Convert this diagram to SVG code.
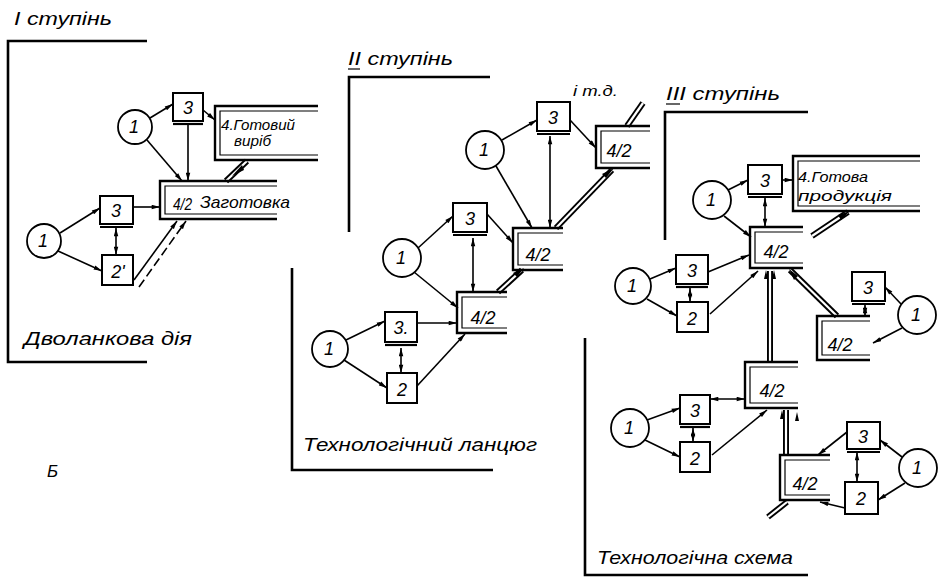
<svg xmlns="http://www.w3.org/2000/svg" width="939" height="580" viewBox="0 0 939 580">
<style>
.ln{stroke:#000;stroke-width:1.6;fill:none}
.bx{stroke:#000;stroke-width:2;fill:#fff}
.bl{stroke:#000;stroke-width:2.2;fill:none}
.c{stroke:#000;stroke-width:1.8;fill:#fff}
.br{stroke:#000;stroke-width:2.6;fill:none}
.ou{stroke:#000;stroke-width:2.4;fill:none}
.in{stroke:#000;stroke-width:1.2;fill:none}
.pk{stroke:#000;stroke-width:6;fill:none}
.pw{stroke:#fff;stroke-width:2.2;fill:none}
.t{font-family:"Liberation Sans","DejaVu Sans",sans-serif;font-style:italic;fill:#000}
.n{font-size:18px;text-anchor:middle}
.h{font-size:19px}
.ah{fill:#000}
</style>
<defs>
<marker id="a" viewBox="0 0 10 6" refX="10" refY="3" markerWidth="9" markerHeight="5" markerUnits="userSpaceOnUse" orient="auto-start-reverse"><path d="M0,0.3 L10,3 L0,5.7 z"/></marker>
</defs>

<!-- brackets and titles -->
<g id="stage1">
<path class="br" d="M147 41 H8 V362 H147"/>
<text class="t h" x="14" y="25" textLength="98" lengthAdjust="spacingAndGlyphs">І ступінь</text>
<text class="t h" x="24" y="345" textLength="168" lengthAdjust="spacingAndGlyphs">Дволанкова дія</text>
</g>
<g id="stage2">
<path class="br" d="M490 77 H349 V232"/>
<path class="br" d="M292 268 V470 H493"/>
<text class="t h" x="348" y="65" textLength="105" lengthAdjust="spacingAndGlyphs">ІІ ступінь</text>
<path class="in" d="M348 69 H360"/>
<text class="t h" x="303" y="451" textLength="234" lengthAdjust="spacingAndGlyphs">Технологічний ланцюг</text>
<text class="t" font-size="15" x="573" y="96" textLength="45" lengthAdjust="spacingAndGlyphs">і т.д.</text>
</g>
<g id="stage3">
<path class="br" d="M808 112 H665 V240"/>
<path class="br" d="M585 338 V575 H808"/>
<text class="t h" x="666" y="100" textLength="114" lengthAdjust="spacingAndGlyphs">ІІІ ступінь</text>
<path class="in" d="M666 104 H680"/>
<text class="t h" x="597" y="564" textLength="196" lengthAdjust="spacingAndGlyphs">Технологічна схема</text>
</g>
<text class="t" font-size="17" x="47" y="477">Б</text>

<!-- connectors -->
<g id="connectors">
<!-- stage I -->
<path class="ln" marker-end="url(#a)" d="M150 118 L173 104"/>
<path class="ln" marker-end="url(#a)" d="M147 140 L182 181"/>
<path class="ln" marker-end="url(#a)" d="M188 125 V181"/>
<path class="ln" marker-end="url(#a)" d="M203 110 L215 120"/>
<path class="pk" d="M226 181 L247 161"/><path class="pw" d="M226 181 L247 161"/>
<path class="ah" d="M232 176 l10 -11 l2 5 z"/>
<path class="ln" marker-end="url(#a)" d="M60 233 L100 208"/>
<path class="ln" marker-end="url(#a)" d="M58 251 L102 271"/>
<path class="ln" marker-start="url(#a)" marker-end="url(#a)" d="M116 228 V255"/>
<path class="ln" marker-end="url(#a)" d="M133 207 H160"/>
<path class="ln" marker-end="url(#a)" d="M134 280 L177 221"/>
<path class="ln" stroke-dasharray="9 4" stroke-width="2" marker-end="url(#a)" d="M139 287 L186 221"/>

<!-- stage II -->
<path class="ln" marker-end="url(#a)" d="M502 140 L537 120"/>
<path class="ln" marker-end="url(#a)" d="M496 166 L532 228"/>
<path class="ln" marker-start="url(#a)" marker-end="url(#a)" d="M550 136 V228"/>
<path class="ln" marker-end="url(#a)" d="M570 120 L596 148"/>
<path class="pk" d="M556 228 L612 170"/><path class="pw" d="M556 228 L612 170"/>
<path class="ah" d="M614 168 l-12 6 l4 4 z"/>
<path class="pk" d="M627 126 L643 103"/><path class="pw" d="M627 126 L643 103"/>
<path class="ln" marker-end="url(#a)" d="M418 248 L453 216"/>
<path class="ln" marker-end="url(#a)" d="M414 272 L458 308"/>
<path class="ln" marker-start="url(#a)" marker-end="url(#a)" d="M473 238 V292"/>
<path class="ln" marker-end="url(#a)" d="M487 214 L513 243"/>
<path class="pk" d="M498 292 L522 270"/><path class="pw" d="M498 292 L522 270"/>
<path class="ah" d="M524 268 l-11 5 l4 4 z"/>
<path class="ln" marker-end="url(#a)" d="M346 340 L385 321"/>
<path class="ln" marker-end="url(#a)" d="M344 360 L387 388"/>
<path class="ln" marker-start="url(#a)" marker-end="url(#a)" d="M401 348 V373"/>
<path class="ln" marker-end="url(#a)" d="M417 323 H457"/>
<path class="ln" marker-end="url(#a)" d="M417 386 L465 334"/>

<!-- stage III -->
<path class="ln" marker-end="url(#a)" d="M728 190 L748 180"/>
<path class="ln" marker-end="url(#a)" d="M724 216 L751 237"/>
<path class="ln" marker-start="url(#a)" marker-end="url(#a)" d="M765 198 V227"/>
<path class="ln" marker-end="url(#a)" d="M782 180 H793"/>
<path class="pk" d="M812 236 L848 212"/><path class="pw" d="M812 236 L848 212"/>
<path class="ah" d="M850 211 l-12 4 l3 5 z"/>
<path class="ln" marker-end="url(#a)" d="M650 279 L676 268"/>
<path class="ln" marker-end="url(#a)" d="M647 299 L677 316"/>
<path class="ln" marker-start="url(#a)" marker-end="url(#a)" d="M690 288 V302"/>
<path class="ln" marker-end="url(#a)" d="M708 272 L749 255"/>
<path class="ln" marker-end="url(#a)" d="M710 314 L758 271"/>
<path class="pk" stroke-width="8" d="M770 362 V271"/><path class="pw" stroke-width="3" d="M770 362 V271"/>
<path class="ah" d="M766 270 l-2 9 l4 0 z M774 270 l-2 9 l4 0 z"/>
<path class="pk" d="M837 316 L790 270"/><path class="pw" d="M837 316 L790 270"/>
<path class="ah" d="M789 269 l5 11 l4 -4 z"/>
<path class="ln" marker-start="url(#a)" marker-end="url(#a)" d="M865 305 V316"/>
<path class="ln" marker-end="url(#a)" d="M901 304 L885 287"/>
<path class="ln" marker-end="url(#a)" d="M902 328 L873 343"/>
<path class="ln" marker-start="url(#a)" marker-end="url(#a)" d="M710 399 H745"/>
<path class="ln" marker-end="url(#a)" d="M647 420 L680 408"/>
<path class="ln" marker-end="url(#a)" d="M645 440 L680 457"/>
<path class="ln" marker-start="url(#a)" marker-end="url(#a)" d="M693 428 V442"/>
<path class="ln" marker-end="url(#a)" d="M712 455 L767 410"/>
<path class="pk" stroke-width="8" d="M786 455 V410"/><path class="pw" stroke-width="3" d="M786 455 V410"/>
<path class="ah" d="M782 410 l-2 9 l4 0 z M797 412 l-2 9 l4 0 z"/>
<path class="pk" d="M787 502 L768 517"/><path class="pw" d="M787 502 L768 517"/>
<path class="ln" marker-end="url(#a)" d="M847 432 L818 455"/>
<path class="ln" marker-end="url(#a)" d="M902 457 L880 440"/>
<path class="ln" marker-end="url(#a)" d="M905 483 L878 500"/>
<path class="ln" marker-start="url(#a)" marker-end="url(#a)" d="M857 452 V482"/>
<path class="ln" marker-end="url(#a)" d="M845 508 L820 502"/>
</g>

<!-- stage I nodes -->
<g id="I-1a"><circle class="c" cx="135" cy="127" r="17"/><text class="t n" x="134" y="133">1</text></g>
<g id="I-3a"><rect class="bx" x="173" y="93" width="30" height="28"/><path class="bl" d="M173 124 H203"/><text class="t n" x="188" y="114">3</text></g>
<g id="I-4a"><path class="ou" d="M318 106 H215 V160 H318"/><path class="in" d="M318 111 H220 V155 H318"/>
<text class="t" font-size="15" x="221" y="130" textLength="74" lengthAdjust="spacingAndGlyphs">4.Готовий</text>
<text class="t" font-size="15" x="234" y="146" textLength="37" lengthAdjust="spacingAndGlyphs">виріб</text></g>
<g id="I-4b"><path class="ou" d="M277 181 H160 V219 H277"/><path class="in" d="M277 186 H165 V214 H277"/>
<text class="t" font-size="16" x="173" y="210" textLength="19" lengthAdjust="spacingAndGlyphs">4/2</text>
<text class="t" font-size="17" x="200" y="208" textLength="90" lengthAdjust="spacingAndGlyphs">Заготовка</text></g>
<g id="I-1b"><circle class="c" cx="44" cy="241" r="17"/><text class="t n" x="43" y="247">1</text></g>
<g id="I-3b"><rect class="bx" x="100" y="196" width="33" height="28"/><path class="bl" d="M100 227 H133"/><text class="t n" x="116" y="217">3</text></g>
<g id="I-2"><rect class="bx" x="102" y="255" width="31" height="30"/><text class="t n" x="118" y="278">2'</text></g>

<!-- stage II nodes -->
<g id="II-1a"><circle class="c" cx="485" cy="150" r="19"/><text class="t n" x="484" y="156">1</text></g>
<g id="II-3a"><rect class="bx" x="537" y="102" width="33" height="29"/><path class="bl" d="M537 134 H570"/><text class="t n" x="553" y="124">3</text></g>
<g id="II-4a"><path class="ou" d="M650 126 H596 V168 H650"/><path class="in" d="M650 131 H601 V163 H650"/><text class="t n" x="619" y="157">4/2</text></g>
<g id="II-1b"><circle class="c" cx="402" cy="258" r="19"/><text class="t n" x="401" y="264">1</text></g>
<g id="II-3b"><rect class="bx" x="453" y="203" width="34" height="29"/><path class="bl" d="M453 235 H487"/><text class="t n" x="470" y="225">3</text></g>
<g id="II-4b"><path class="ou" d="M563 228 H513 V270 H563"/><path class="in" d="M563 233 H518 V265 H563"/><text class="t n" x="538" y="261">4/2</text></g>
<g id="II-1c"><circle class="c" cx="330" cy="349" r="18"/><text class="t n" x="329" y="355">1</text></g>
<g id="II-3c"><rect class="bx" x="385" y="312" width="32" height="30"/><path class="bl" d="M385 345 H417"/><text class="t n" x="401" y="334">3.</text></g>
<g id="II-2"><rect class="bx" x="387" y="373" width="30" height="30"/><text class="t n" x="402" y="396">2</text></g>
<g id="II-4c"><path class="ou" d="M507 292 H457 V333 H507"/><path class="in" d="M507 297 H462 V328 H507"/><text class="t n" x="483" y="324">4/2</text></g>

<!-- stage III nodes -->
<g id="III-1a"><circle class="c" cx="712" cy="200" r="19"/><text class="t n" x="711" y="206">1</text></g>
<g id="III-3a"><rect class="bx" x="748" y="165" width="34" height="29"/><path class="bl" d="M748 197 H782"/><text class="t n" x="765" y="187">3</text></g>
<g id="III-4a"><path class="ou" d="M920 156 H793 V211 H920"/><path class="in" d="M920 161 H798 V206 H920"/>
<text class="t" font-size="15" x="798" y="182" textLength="70" lengthAdjust="spacingAndGlyphs">4.Готова</text>
<text class="t" font-size="15" x="798" y="201" textLength="94" lengthAdjust="spacingAndGlyphs">продукція</text></g>
<g id="III-4b"><path class="ou" d="M803 227 H750 V268 H803"/><path class="in" d="M803 232 H755 V263 H803"/><text class="t n" x="776" y="258">4/2</text></g>
<g id="III-1b"><circle class="c" cx="633" cy="286" r="18"/><text class="t n" x="632" y="292">1</text></g>
<g id="III-3b"><rect class="bx" x="676" y="255" width="32" height="29"/><path class="bl" d="M676 287 H708"/><text class="t n" x="692" y="277">3</text></g>
<g id="III-2b"><rect class="bx" x="677" y="302" width="31" height="30"/><text class="t n" x="692" y="325">2</text></g>
<g id="III-3c"><rect class="bx" x="852" y="272" width="33" height="29"/><path class="bl" d="M852 304 H885"/><text class="t n" x="868" y="294">3</text></g>
<g id="III-1c"><circle class="c" cx="917" cy="315" r="19"/><text class="t n" x="916" y="321">1</text></g>
<g id="III-4c"><path class="ou" d="M870 316 H817 V360 H870"/><path class="in" d="M870 321 H822 V355 H870"/><text class="t n" x="840" y="351">4/2</text></g>
<g id="III-4m"><path class="ou" d="M798 362 H745 V408 H798"/><path class="in" d="M798 367 H750 V403 H798"/><text class="t n" x="772" y="397">4/2</text></g>
<g id="III-3d"><rect class="bx" x="680" y="395" width="30" height="29"/><path class="bl" d="M680 427 H710"/><text class="t n" x="695" y="417">3</text></g>
<g id="III-1d"><circle class="c" cx="630" cy="428" r="19"/><text class="t n" x="629" y="434">1</text></g>
<g id="III-2d"><rect class="bx" x="680" y="442" width="30" height="30"/><text class="t n" x="695" y="465">2</text></g>
<g id="III-4l"><path class="ou" d="M830 455 H780 V500 H830"/><path class="in" d="M830 460 H785 V495 H830"/><text class="t n" x="805" y="490">4/2</text></g>
<g id="III-3e"><rect class="bx" x="847" y="422" width="33" height="27"/><path class="bl" d="M847 452 H880"/><text class="t n" x="863" y="443">3</text></g>
<g id="III-1e"><circle class="c" cx="918" cy="468" r="19"/><text class="t n" x="917" y="474">1</text></g>
<g id="III-2e"><rect class="bx" x="845" y="482" width="33" height="32"/><text class="t n" x="861" y="505">2</text></g>
</svg>
